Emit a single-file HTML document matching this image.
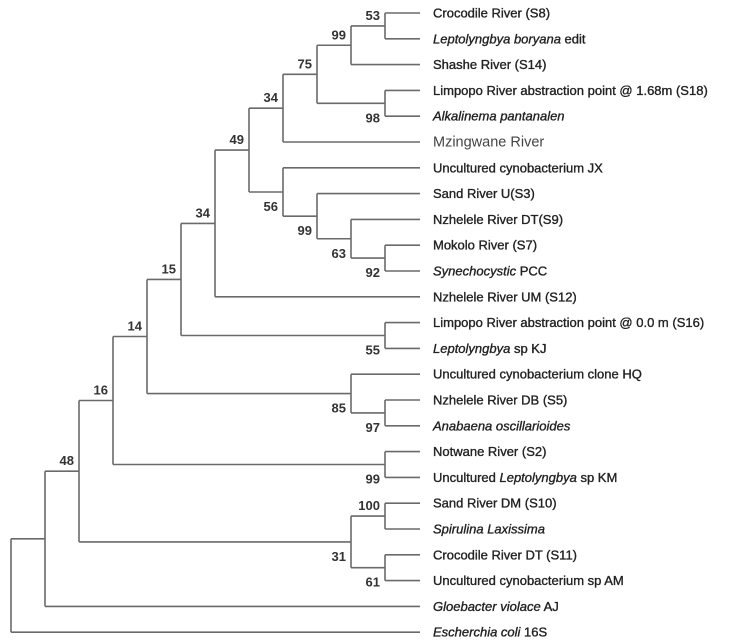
<!DOCTYPE html>
<html><head><meta charset="utf-8"><style>
html,body{margin:0;padding:0;background:#fff;}
svg{display:block;font-family:"Liberation Sans",Arial,sans-serif;}
</style></head><body>
<svg id="tree" width="738" height="642" viewBox="0 0 738 642"></svg>
<script>
// Leaf names: [text, italic] segments
const leafNames = [
  [["Crocodile River (S8)",0]],
  [["Leptolyngbya boryana",1],[" edit",0]],
  [["Shashe River (S14)",0]],
  [["Limpopo River abstraction point @ 1.68m (S18)",0]],
  [["Alkalinema pantanalen",1]],
  [["Mzingwane River",0]],
  [["Uncultured cynobacterium JX",0]],
  [["Sand River U(S3)",0]],
  [["Nzhelele River DT(S9)",0]],
  [["Mokolo River (S7)",0]],
  [["Synechocystic",1],[" PCC",0]],
  [["Nzhelele River UM (S12)",0]],
  [["Limpopo River abstraction point @ 0.0 m (S16)",0]],
  [["Leptolyngbya",1],[" sp KJ",0]],
  [["Uncultured cynobacterium clone HQ",0]],
  [["Nzhelele River DB (S5)",0]],
  [["Anabaena oscillarioides",1]],
  [["Notwane River (S2)",0]],
  [["Uncultured ",0],["Leptolyngbya",1],[" sp KM",0]],
  [["Sand River DM (S10)",0]],
  [["Spirulina Laxissima",1]],
  [["Crocodile River DT (S11)",0]],
  [["Uncultured cynobacterium sp AM",0]],
  [["Gloebacter violace",1],[" AJ",0]],
  [["Escherchia coli",1],[" 16S",0]]
];
// Tree topology: [depth, supportLabel, children]; numbers are leaf indices; upper child first
const tree = [0,"",[[1,"",[[2,"48",[
  [3,"16",[
    [4,"14",[
      [5,"15",[
        [6,"34",[
          [7,"49",[
            [8,"34",[
              [9,"75",[
                [10,"99",[[11,"53",[0,1]],2]],
                [11,"98",[3,4]]
              ]],
              5
            ]],
            [8,"56",[
              6,
              [9,"99",[7,[10,"63",[8,[11,"92",[9,10]]]]]]
            ]]
          ]],
          11
        ]],
        [11,"55",[12,13]]
      ]],
      [10,"85",[14,[11,"97",[15,16]]]]
    ]],
    [11,"99",[17,18]]
  ]],
  [10,"31",[[11,"100",[19,20]],[11,"61",[21,22]]]]
]],23]],24]];
const depthX = d => 11 + d*34.0;
const leafY = i => 13 + i*25.8;
const LEAF_END = 420, TEXT_X = 433;
const svg = document.getElementById('tree');
const NS = 'http://www.w3.org/2000/svg';
function line(x1,y1,x2,y2,name){
  const l=document.createElementNS(NS,'line');
  l.setAttribute('x1',x1);l.setAttribute('y1',y1);l.setAttribute('x2',x2);l.setAttribute('y2',y2);
  l.setAttribute('stroke','#6a6a6a');l.setAttribute('stroke-width','1.6');
  
  
  svg.appendChild(l);
}
function label(x,y,txt,name){
  const t=document.createElementNS(NS,'text');
  t.setAttribute('x',x);t.setAttribute('y',y);t.setAttribute('text-anchor','end');
  t.setAttribute('font-size','13');t.setAttribute('font-weight','bold');t.setAttribute('fill','#333');
  t.textContent=txt;
  
  
  svg.appendChild(t);
}
function draw(node){ // returns y of node
  if(typeof node==='number'){
    const y=leafY(node);
    const t=document.createElementNS(NS,'text');
    t.setAttribute('x',TEXT_X);t.setAttribute('y',y+4.5);
    const mz = node===5;
    t.setAttribute('font-size', mz?'14.5':'13');
    t.setAttribute('fill', mz?'#444':'#222');
    if(!mz){t.setAttribute('stroke','#222');t.setAttribute('stroke-width','0.35');}
    leafNames[node].forEach(([s,it])=>{
      const sp=document.createElementNS(NS,'tspan');
      if(it) sp.setAttribute('font-style','italic');
      sp.textContent=s; t.appendChild(sp);
    });
    
    
    svg.appendChild(t);
    return y;
  }
  const [d,sup,kids]=node;
  const x=depthX(d);
  const ys=kids.map((k,i)=>{
    const y=draw(k);
    const xe = typeof k==='number'?LEAF_END:depthX(k[0]);
    line(x,y,xe,y,'branch');
    if(typeof k!=='number' && k[1]){
      if(i===0) label(xe-5,y-6,k[1],'bootstrap-label');
      else label(xe-5,y+19,k[1],'bootstrap-label');
    }
    return y;
  });
  line(x,ys[0],x,ys[ys.length-1],'node-connector');
  return (ys[0]+ys[ys.length-1])/2;
}
draw(tree);
</script>
</body></html>
